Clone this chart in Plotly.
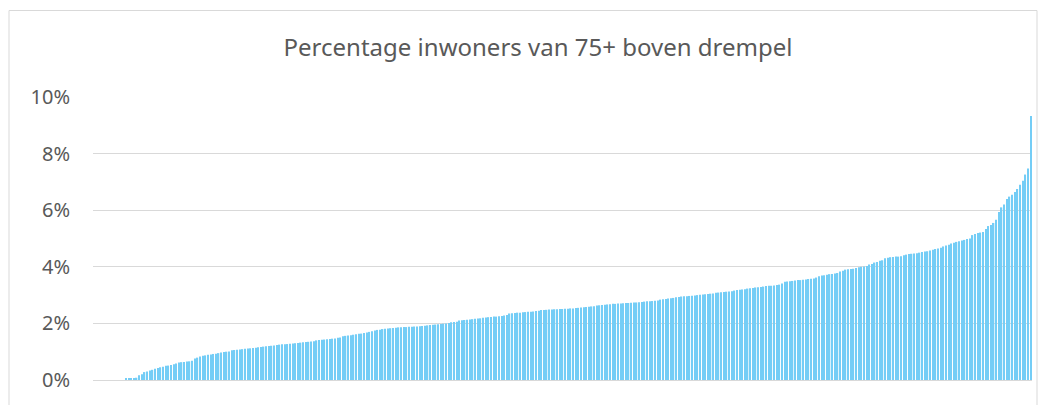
import plotly.graph_objects as go

# Share of residents aged 75+ above the threshold, per municipality (sorted ascending, in %)
percentages = [
    0, 0, 0, 0, 0, 0, 0, 0, 0, 0, 0, 0,
    0.04, 0.05, 0.06, 0.07, 0.08,
    0.17, 0.2, 0.28, 0.3, 0.34, 0.36, 0.4, 0.42, 0.45, 0.47,
    0.5, 0.51, 0.53, 0.56, 0.58,
    0.62, 0.63, 0.64, 0.65, 0.66, 0.68, 0.76, 0.79,
    0.83, 0.86, 0.87, 0.89, 0.9, 0.92, 0.93, 0.95, 0.97, 0.99, 1.0,
    1.01, 1.05, 1.06, 1.07, 1.08, 1.09, 1.1, 1.11,
    1.12, 1.13, 1.14, 1.16, 1.17, 1.18, 1.19, 1.2, 1.21, 1.22,
    1.24, 1.25, 1.26, 1.26, 1.27, 1.28, 1.29, 1.3, 1.31, 1.32, 1.33, 1.34,
    1.35, 1.36, 1.37, 1.4, 1.41, 1.42, 1.43, 1.44, 1.45, 1.46, 1.47,
    1.49, 1.5, 1.55, 1.56, 1.57, 1.58, 1.6, 1.62, 1.63,
    1.64, 1.66, 1.68, 1.7, 1.72, 1.75, 1.77, 1.78,
    1.8, 1.81, 1.82, 1.83, 1.84, 1.85, 1.86,
    1.86, 1.87, 1.87, 1.88, 1.88, 1.89, 1.89,
    1.9, 1.91, 1.92, 1.93, 1.94, 1.95, 1.96, 1.97, 1.98,
    1.99, 2.0, 2.01, 2.04, 2.05, 2.06, 2.1, 2.11, 2.12, 2.13,
    2.14, 2.15, 2.16, 2.17, 2.18, 2.2, 2.21, 2.22, 2.23, 2.24,
    2.24, 2.25, 2.26, 2.28, 2.3, 2.35, 2.36, 2.37, 2.38, 2.38,
    2.39, 2.4, 2.41, 2.41, 2.42, 2.44, 2.45,
    2.47, 2.47, 2.48, 2.49, 2.49, 2.5, 2.5,
    2.51, 2.51, 2.52, 2.52, 2.53, 2.53, 2.54, 2.55,
    2.56, 2.57, 2.58, 2.59, 2.6, 2.61, 2.63, 2.64, 2.65, 2.66, 2.67,
    2.68, 2.69, 2.69, 2.7, 2.7, 2.71, 2.72, 2.72, 2.73,
    2.74, 2.74, 2.75, 2.76, 2.77, 2.78, 2.78, 2.79, 2.8, 2.81,
    2.84, 2.85, 2.86, 2.88, 2.89, 2.9, 2.92, 2.93,
    2.95, 2.96, 2.96, 2.97, 2.98, 2.99, 3.0, 3.01,
    3.02, 3.03, 3.04, 3.05, 3.06, 3.08, 3.09, 3.1,
    3.11, 3.12, 3.13, 3.14, 3.16, 3.18, 3.19, 3.2, 3.21,
    3.23, 3.24, 3.25, 3.27, 3.28, 3.29, 3.3,
    3.32, 3.33, 3.33, 3.34, 3.36, 3.37, 3.41,
    3.47, 3.48, 3.49, 3.5, 3.52, 3.53, 3.53, 3.54, 3.55,
    3.57, 3.58, 3.59, 3.62, 3.67, 3.69, 3.7, 3.72,
    3.74, 3.75, 3.76, 3.78, 3.83, 3.86, 3.9, 3.91, 3.92, 3.93,
    3.96, 3.98, 4.0, 4.01, 4.03, 4.08, 4.1, 4.15, 4.17, 4.21, 4.23,
    4.3, 4.32, 4.34, 4.35, 4.36, 4.36, 4.37, 4.41, 4.43,
    4.45, 4.46, 4.47, 4.48, 4.5, 4.52, 4.54, 4.55, 4.58, 4.6,
    4.63, 4.65, 4.67, 4.72, 4.75, 4.78, 4.82, 4.85, 4.88, 4.9,
    4.93, 4.95, 4.98, 5.0, 5.12, 5.16, 5.19, 5.21, 5.23, 5.34,
    5.44, 5.48, 5.55, 5.66, 5.94, 6.1, 6.2, 6.4, 6.48, 6.55,
    6.64, 6.75, 6.9, 7.04, 7.26, 7.47, 9.33,
]
municipalities = list(range(len(percentages)))

y_ticks = [0, 2, 4, 6, 8, 10]
y_tick_labels = ["0%", "2%", "4%", "6%", "8%", "10%"]
title_text = "Percentage inwoners van 75+ boven drempel"

W, H = 1046, 405
ml, mr, mt, mb = 93, 14, 97, 20
pw, ph = W - ml - mr, H - mt - mb

fig = go.Figure(
    go.Bar(
        x=municipalities,
        y=percentages,
        marker=dict(color="#74CDF6", line=dict(width=0)),
        hoverinfo="y",
    )
)

# outer frame of the chart area (pixel positions converted to paper units)
def px_x(p):
    return (p - ml) / pw

def px_y(p):
    return (H - mb - p) / ph

fig.add_shape(
    type="rect", xref="paper", yref="paper",
    x0=px_x(9), x1=px_x(1037), y0=px_y(420), y1=px_y(9),
    line=dict(color="#D9D9D9", width=1), fillcolor="rgba(0,0,0,0)", layer="below",
)

fig.update_layout(
    width=W, height=H,
    margin=dict(l=ml, r=mr, t=mt, b=mb),
    paper_bgcolor="white", plot_bgcolor="white",
    bargap=0.5,
    showlegend=False,
    font=dict(family="Noto Sans, Open Sans, sans-serif", color="#595959"),
    title=dict(
        text=title_text, x=538 / W, xanchor="center",
        y=1 - 48 / H, yanchor="middle",
        font=dict(size=24, color="#595959"),
    ),
    xaxis=dict(
        range=[-0.5, len(percentages) - 0.5],
        showticklabels=False, showgrid=False, zeroline=False, ticks="",
        showline=False,
    ),
    yaxis=dict(
        range=[0, 10], tickvals=y_ticks, ticktext=y_tick_labels,
        showgrid=True, gridcolor="#D9D9D9", gridwidth=1.3,
        zeroline=True, zerolinecolor="#D9D9D9", zerolinewidth=1.3,
        tickfont=dict(size=20, color="#595959"), ticks="", ticklabelstandoff=22,
        showline=False,
    ),
)

fig.write_html("out.html")
